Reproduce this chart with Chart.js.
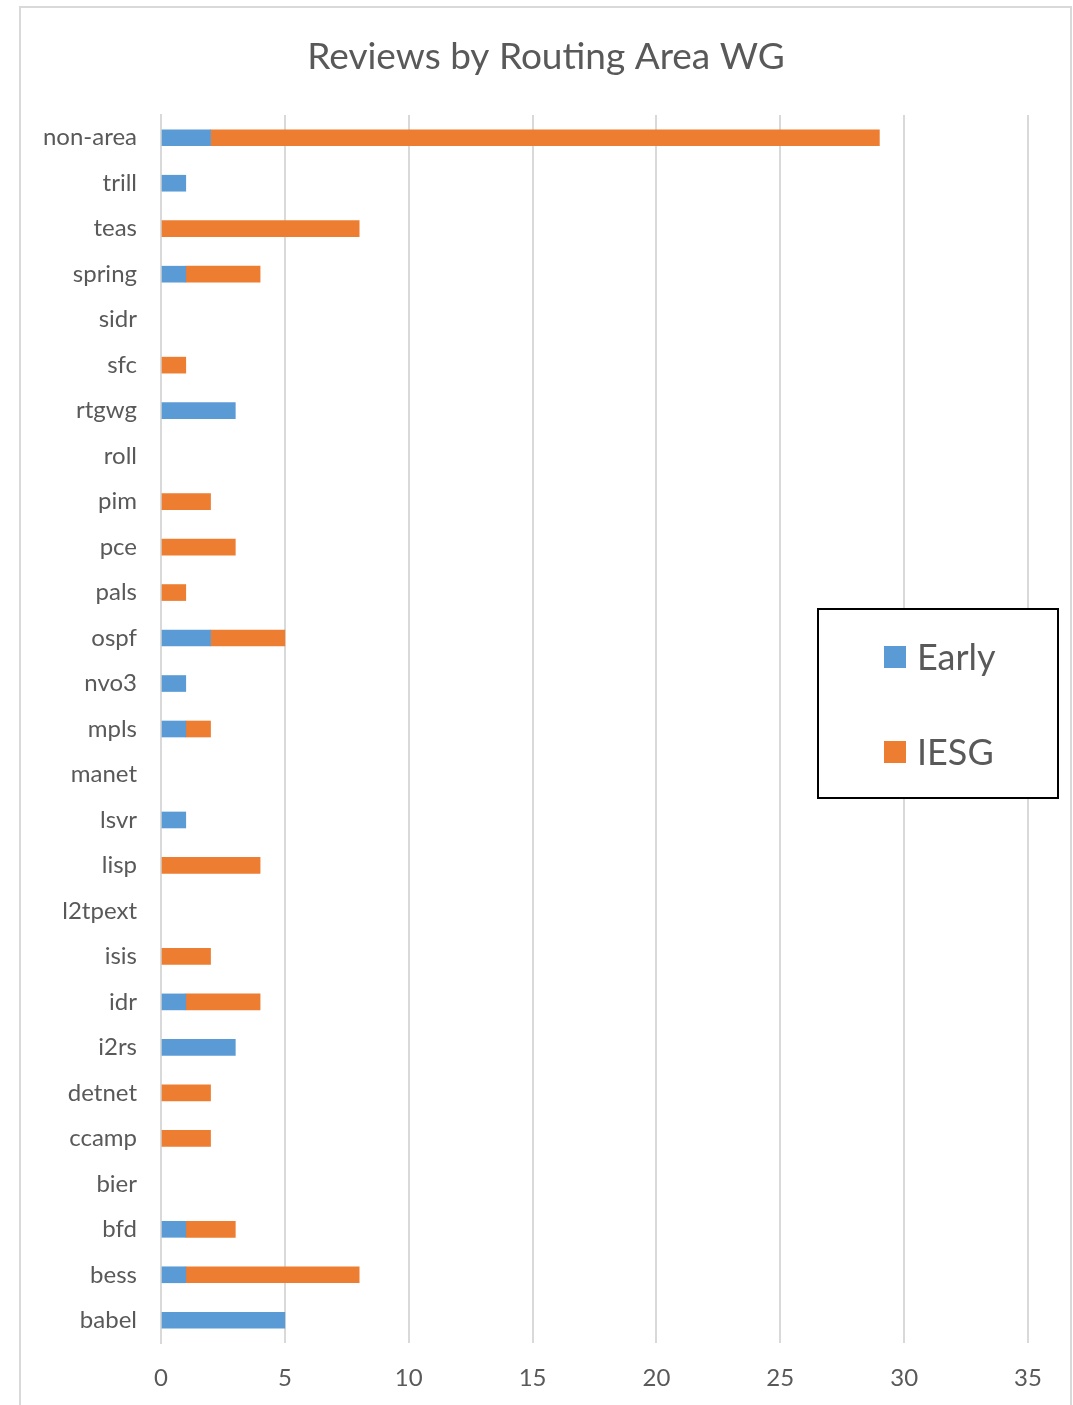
<!DOCTYPE html>
<html>
<head>
<meta charset="utf-8">
<script src="https://cdn.jsdelivr.net/npm/chart.js@4/dist/chart.umd.min.js"></script>
<style>
  html, body { margin: 0; padding: 0; background: #ffffff; overflow: hidden; }
  #frame { position: absolute; left: 19px; top: 6px; width: 1053px; height: 1420px; border: 2px solid #d9d9d9; box-sizing: border-box; }
  #wrap { position: absolute; left: 0; top: 0; width: 1073px; height: 1405px; }
</style>
</head>
<body>
<div id="frame"></div>
<div id="wrap"><canvas id="c" width="1073" height="1405"></canvas></div>
<script>
const chartTitle = 'Reviews by Routing Area WG';
const categories = ['non-area','trill','teas','spring','sidr','sfc','rtgwg','roll','pim','pce','pals','ospf','nvo3','mpls','manet','lsvr','lisp','l2tpext','isis','idr','i2rs','detnet','ccamp','bier','bfd','bess','babel'];
const earlyValues = [2,1,0,1,0,0,3,0,0,0,0,2,1,1,0,1,0,0,0,1,3,0,0,0,1,1,5];
const iesgValues  = [27,0,8,3,0,1,0,0,2,3,1,3,0,1,0,0,4,0,2,3,0,2,2,0,2,7,0];
const seriesNames = ['Early','IESG'];
const seriesColors = ['#5b9bd5','#ed7d31'];
const xTicks = [0,5,10,15,20,25,30,35];

const FONT = 'Lato, "Open Sans", sans-serif';
const TEXT = '#595959';
const noZero = arr => arr.map(v => (v === 0 ? null : v));

const titlePlugin = {
  id: 'excelTitle',
  afterDraw(chart) {
    const ctx = chart.ctx;
    ctx.save();
    ctx.fillStyle = TEXT;
    ctx.font = '37px ' + FONT;
    ctx.textAlign = 'center';
    ctx.textBaseline = 'middle';
    ctx.fillText(chartTitle, 546, 57);
    ctx.restore();
  }
};

const boxLegend = {
  id: 'boxLegend',
  afterDraw(chart) {
    const ctx = chart.ctx;
    ctx.save();
    ctx.fillStyle = '#ffffff';
    ctx.fillRect(818, 609, 240, 189);
    ctx.strokeStyle = '#000000';
    ctx.lineWidth = 2;
    ctx.strokeRect(818, 609, 240, 189);
    ctx.font = '36px ' + FONT;
    ctx.textBaseline = 'middle';
    ctx.textAlign = 'left';
    chart.data.datasets.forEach((ds, i) => {
      const cy = 657 + i * 95;
      ctx.fillStyle = ds.backgroundColor;
      ctx.fillRect(884, cy - 11, 22, 22);
      ctx.fillStyle = TEXT;
      ctx.fillText(ds.label, 917, cy + 1);
    });
    ctx.restore();
  }
};

new Chart(document.getElementById('c'), {
  type: 'bar',
  data: {
    labels: categories,
    datasets: [
      { label: seriesNames[0], data: noZero(earlyValues), backgroundColor: seriesColors[0], barThickness: 16 },
      { label: seriesNames[1], data: noZero(iesgValues), backgroundColor: seriesColors[1], barThickness: 16 }
    ]
  },
  options: {
    indexAxis: 'y',
    responsive: false,
    animation: false,
    devicePixelRatio: 1,
    layout: { padding: { top: 115, left: 20, right: 45, bottom: 0 } },
    plugins: {
      legend: { display: false },
      title: { display: false },
      tooltip: { enabled: false }
    },
    scales: {
      x: {
        stacked: true,
        min: 0,
        max: 35,
        afterBuildTicks(scale) { scale.ticks = xTicks.map(v => ({ value: v })); },
        afterFit(scale) { scale.height = 62; },
        grid: { color: '#d9d9d9', lineWidth: 2, drawTicks: false },
        border: { display: false },
        ticks: { color: TEXT, font: { family: FONT, size: 24 }, padding: 21 }
      },
      y: {
        stacked: true,
        afterFit(scale) { scale.width = 141; },
        grid: { display: false, drawTicks: false },
        border: { display: true, color: '#d9d9d9', width: 2 },
        ticks: { color: TEXT, font: { family: FONT, size: 24 }, padding: 24, autoSkip: false }
      }
    }
  },
  plugins: [titlePlugin, boxLegend]
});
</script>
</body>
</html>
